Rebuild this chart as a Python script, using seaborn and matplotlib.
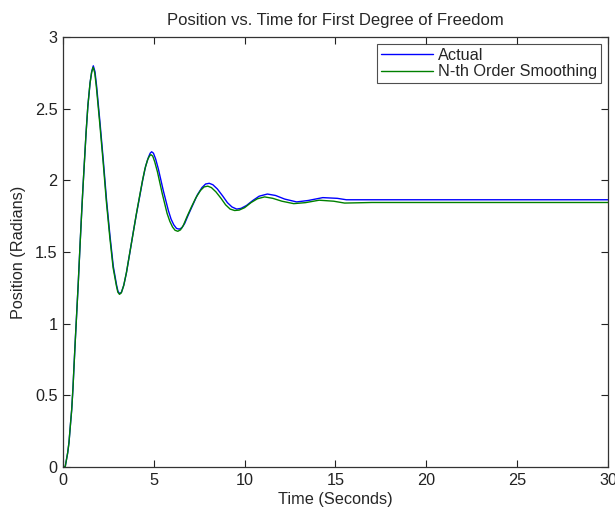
import numpy as np
import pandas as pd
import matplotlib
matplotlib.use("Agg")
import matplotlib.pyplot as plt
import seaborn as sns

# values
time_actual = [0.0, 0.12, 0.26, 0.33, 0.42, 0.48, 0.55, 0.61, 0.68, 0.75, 0.84, 0.94,
               1.03, 1.10, 1.18, 1.27, 1.37, 1.49, 1.58, 1.67, 1.76, 1.85, 2.04, 2.22,
               2.40, 2.59, 2.77, 2.95, 3.03, 3.12, 3.22, 3.35, 3.50, 3.70, 3.87, 4.05,
               4.24, 4.40, 4.55, 4.70, 4.80, 4.88, 4.98, 5.10, 5.25, 5.52, 5.80, 5.95,
               6.10, 6.25, 6.40, 6.55, 6.70, 6.90, 7.15, 7.40, 7.65, 7.85, 8.05, 8.25,
               8.50, 8.80, 9.05, 9.30, 9.56, 9.80, 10.10, 10.45, 10.80, 11.25, 11.70,
               12.20, 12.86, 13.50, 14.30, 15.10, 15.60, 20.0, 30.0]
actual = [0.0, 0.0, 0.10, 0.17, 0.31, 0.40, 0.55, 0.71, 0.89, 1.06, 1.28, 1.55,
          1.78, 1.95, 2.13, 2.33, 2.52, 2.68, 2.76, 2.80, 2.76, 2.66, 2.40, 2.14,
          1.86, 1.61, 1.40, 1.27, 1.225, 1.21, 1.22, 1.27, 1.36, 1.51, 1.64, 1.77,
          1.90, 2.01, 2.10, 2.16, 2.19, 2.20, 2.19, 2.15, 2.08, 1.93, 1.79, 1.73,
          1.69, 1.665, 1.66, 1.67, 1.70, 1.76, 1.83, 1.90, 1.95, 1.975, 1.98, 1.97,
          1.94, 1.89, 1.845, 1.815, 1.80, 1.805, 1.825, 1.86, 1.89, 1.905, 1.895,
          1.87, 1.85, 1.86, 1.88, 1.875, 1.865, 1.865, 1.865]

time_smooth = [0.0, 0.12, 0.26, 0.33, 0.42, 0.48, 0.55, 0.61, 0.68, 0.75, 0.84, 0.94,
               1.03, 1.10, 1.18, 1.27, 1.37, 1.49, 1.58, 1.66, 1.75, 1.84, 2.03, 2.21,
               2.39, 2.58, 2.76, 2.94, 3.02, 3.11, 3.21, 3.34, 3.49, 3.69, 3.86, 4.03,
               4.21, 4.37, 4.51, 4.66, 4.76, 4.84, 4.94, 5.05, 5.20, 5.46, 5.73, 5.88,
               6.03, 6.17, 6.32, 6.47, 6.62, 6.82, 7.07, 7.32, 7.57, 7.77, 7.97, 8.17,
               8.42, 8.70, 8.95, 9.20, 9.45, 9.70, 10.00, 10.35, 10.70, 11.10, 11.55,
               12.05, 12.70, 13.35, 14.10, 14.90, 15.50, 17.0, 30.0]
smooth = [0.0, 0.0, 0.10, 0.17, 0.31, 0.40, 0.55, 0.71, 0.89, 1.06, 1.28, 1.55,
          1.78, 1.95, 2.13, 2.33, 2.52, 2.68, 2.755, 2.79, 2.75, 2.65, 2.39, 2.13,
          1.85, 1.60, 1.39, 1.265, 1.22, 1.205, 1.215, 1.265, 1.355, 1.505, 1.63, 1.76,
          1.885, 1.995, 2.08, 2.145, 2.17, 2.18, 2.17, 2.13, 2.06, 1.91, 1.77, 1.715,
          1.675, 1.652, 1.645, 1.655, 1.685, 1.745, 1.815, 1.88, 1.93, 1.955, 1.96, 1.95,
          1.92, 1.875, 1.83, 1.80, 1.79, 1.793, 1.81, 1.845, 1.872, 1.885, 1.875,
          1.855, 1.838, 1.845, 1.862, 1.855, 1.842, 1.846, 1.846]

sns.set_theme(style="ticks")
plt.rcParams['font.family'] = ['Liberation Sans', 'DejaVu Sans']

fig = plt.figure(figsize=(6.15, 5.16), dpi=100)
ax = fig.add_axes([0.1024, 0.095, 0.8862, 0.833])

sns.lineplot(x=time_actual, y=actual, color='#0000ff', lw=1.0, label='Actual', ax=ax)
sns.lineplot(x=time_smooth, y=smooth, color='#008000', lw=1.0, label='N-th Order Smoothing', ax=ax)

fs = 11.7
ax.set_xlim(0, 30)
ax.set_ylim(0, 3)
ax.set_xticks(np.arange(0, 31, 5))
ax.set_yticks(np.arange(0, 3.01, 0.5))
ax.set_yticklabels(['0', '0.5', '1', '1.5', '2', '2.5', '3'])
ax.tick_params(direction='in', top=True, right=True, length=5, width=0.8,
               labelsize=fs, colors='#222222', pad=4)
for s in ax.spines.values():
    s.set_color('#333333')
    s.set_linewidth(0.9)

ax.set_title('Position vs. Time for First Degree of Freedom', fontsize=12, pad=9)
ax.set_xlabel('Time (Seconds)', fontsize=fs, labelpad=3)
ax.set_ylabel('Position (Radians)', fontsize=fs, labelpad=6)

leg = ax.legend(loc='upper right', fontsize=fs, fancybox=False, frameon=True,
                edgecolor='#222222', borderaxespad=0.45, handlelength=3.2,
                handletextpad=0.35, borderpad=0.2, labelspacing=0.1)
leg.get_frame().set_linewidth(0.8)

fig.savefig('out.png', dpi=100)
